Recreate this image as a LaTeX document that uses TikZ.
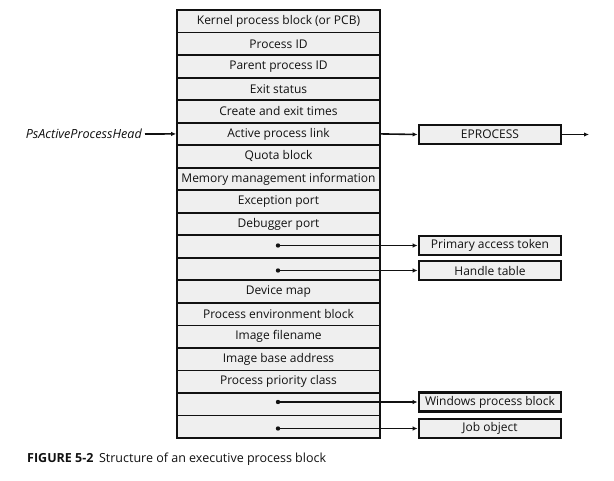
\documentclass[tikz,border=0pt]{standalone}
\usepackage{fontspec}
\setmainfont{Open Sans}
\usetikzlibrary{arrows.meta}
\definecolor{rowfill}{HTML}{EFEFEF}
\definecolor{ink}{HTML}{111111}
\tikzset{
  x=1pt, y=-1pt,
  rowbox/.style={draw=ink, line width=1.8pt, fill=rowfill, minimum width=203pt, minimum height=22.5pt, inner sep=0pt, font=\fontsize{12}{14}\selectfont, text=ink},
  refbox/.style={draw=ink, line width=2.8pt, fill=rowfill, minimum width=142pt, minimum height=19pt, inner sep=0pt, font=\fontsize{12}{14}\selectfont, text=ink},
  arr/.style={draw=ink, line width=1.6pt, -{Latex[length=5pt,width=4.5pt]}},
}
\begin{document}
\begin{tikzpicture}
\useasboundingbox (0,0) rectangle (614,480);
\fill[white] (0,0) rectangle (614,480);
\foreach \t [count=\i] in {Kernel process block (or PCB),Process ID,Parent process ID,Exit status,Create and exit times,Active process link,Quota block,Memory management information,Exception port,Debugger port,{},{},Device map,Process environment block,Image filename,Image base address,Process priority class,{},{}}{
  \node[rowbox] (r\i) at (278.5, 10+\i*22.53-11.265) {\t};
}
\node[anchor=east, font=\fontsize{12.6}{14}\selectfont\itshape, text=ink, inner sep=0pt] (ps) at (142,134) {PsActiveProcessHead};
\coordinate (pss) at (145,134);
\draw[arr] (pss) -- (r6.west);
\node[refbox] (ep) at (490,134.5) {EPROCESS};
\coordinate (epn) at (589,134.5);
\draw[arr] (r6.east) -- (ep.west);
\draw[arr] (ep.east) -- (epn);
\node[refbox] (tok) at (490,245.5) {Primary access token};
\node[refbox] (ht) at (490,270.5) {Handle table};
\node[refbox] (wpb) at (490,402) {Windows process block};
\node[refbox] (job) at (490,428.5) {Job object};
\foreach \r/\b in {11/tok,12/ht,18/wpb,19/job}{
  \coordinate (d\r) at (278,0 |- \b.west);
  \fill[ink] (d\r) circle (2.2);
  \draw[arr] (d\r) -- (\b.west);
}
\node[anchor=west, inner sep=0pt, text=ink, font=\fontsize{12.5}{14}\selectfont] (cap) at (27,459) {\textbf{FIGURE 5-2}\hspace{0.45em}Structure of an executive process block};
\end{tikzpicture}
\end{document}
